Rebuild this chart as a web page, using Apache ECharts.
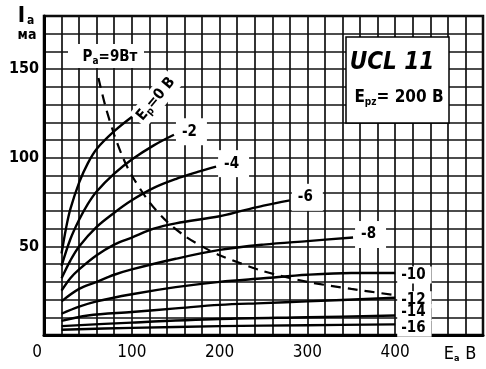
<!DOCTYPE html>
<html><head><meta charset="utf-8">
<script src="https://cdn.jsdelivr.net/npm/echarts@6/dist/echarts.min.js"></script>
<style>html,body{margin:0;padding:0;background:#fff}#c{width:486px;height:369px}</style>
</head><body><div id="c"></div><script>
const FONT = '"DejaVu Sans Condensed","DejaVu Sans",sans-serif';
// tick labels
const xTicks = [0, 100, 200, 300, 400];
const yTicks = [50, 100, 150];
// grid-voltage curves (Ea in V, Ia in mA)
const labels = ['Eр=0 В', '-2', '-4', '-6', '-8', '-10', '-12', '-14', '-16'];
const eaG0 = [20, 25, 30, 40, 50, 60, 80, 100];
const iaG0 = [46, 60, 71, 86, 97, 105, 115, 123];
const eaG2 = [20, 30, 40, 50, 60, 80, 100, 125, 148];
const iaG2 = [39, 54, 65, 74, 81, 91, 99, 107, 113];
const eaG4 = [20, 30, 40, 60, 80, 100, 125, 150, 175, 196];
const iaG4 = [32, 42, 50, 61, 69, 76, 83, 88, 92, 95];
const eaG6 = [20, 30, 40, 60, 80, 100, 125, 150, 200, 225, 250, 280];
const iaG6 = [25, 32, 37, 45, 51, 55, 60, 63, 67, 70, 73, 76];
const eaG8 = [20, 40, 60, 80, 100, 150, 200, 250, 300, 352];
const iaG8 = [19, 26, 30, 34, 37, 43, 48, 51, 53, 55];
const eaG10 = [20, 40, 60, 100, 150, 200, 250, 300, 350, 400];
const iaG10 = [12, 16, 19, 23, 27, 30, 32, 34, 35, 35];
const eaG12 = [20, 50, 100, 150, 200, 250, 300, 400];
const iaG12 = [8, 11, 13, 15, 17, 18, 19, 21];
const eaG14 = [20, 100, 200, 300, 400];
const iaG14 = [5, 7, 9, 10, 11];
const eaG16 = [20, 100, 200, 300, 400];
const iaG16 = [3, 4, 5, 5.5, 6];
// anode dissipation limit Pa = 9 W
const paEa = [62, 70, 80, 90, 100, 120, 140, 160, 180, 200, 250, 300, 350, 400];
const paIa = [145, 129, 113, 100, 90, 75, 64, 56, 50, 45, 36, 30, 26, 22.5];

const curves = [[eaG0, iaG0], [eaG2, iaG2], [eaG4, iaG4], [eaG6, iaG6], [eaG8, iaG8],
  [eaG10, iaG10], [eaG12, iaG12], [eaG14, iaG14], [eaG16, iaG16]];
const pairs = (xs, ys) => xs.map((v, i) => [v, ys[i]]);

const series = curves.map((c, k) => ({
  type: 'line', smooth: 0.35, symbol: 'none', silent: true, z: 3,
  data: pairs(c[0], c[1]),
  lineStyle: { color: '#000', width: 2.4 },
  endLabel: k === 0 ? { show: false } : {
    show: true, formatter: labels[k], color: '#000', fontFamily: FONT,
    fontWeight: 'bold', fontSize: 15, backgroundColor: '#fff',
    padding: k >= 5 ? [1, 6, 1, 4] : [6, 10, 6, 6], distance: 2,
    offset: k === 7 ? [0, -3] : (k === 8 ? [0, 4] : (k <= 4 ? [0, -3] : [0, 2]))
  }
}));
series.push({
  type: 'line', smooth: 0.3, symbol: 'none', silent: true, z: 2,
  data: pairs(paEa, paIa),
  lineStyle: { color: '#000', width: 2.2, type: [10, 7] }
});

const chart = echarts.init(document.getElementById('c'));
chart.setOption({
  animation: false,
  backgroundColor: '#fff',
  grid: { left: 44, top: 16, width: 439, height: 319, show: true, borderColor: '#000', borderWidth: 2.5, backgroundColor: 'transparent' },
  xAxis: {
    type: 'value', min: 0, max: 500, interval: 20,
    axisLine: { show: true, lineStyle: { color: '#000', width: 3 } },
    axisTick: { show: false },
    splitLine: { show: true, lineStyle: { color: '#111', width: 1.7 } },
    axisLabel: {
      margin: 9, color: '#000', fontFamily: FONT, fontSize: 17,
      formatter: v => xTicks.includes(v) && v < 500 ? (v === 0 ? '{z|0}' : String(v)) : '',
      rich: { z: { fontFamily: FONT, fontSize: 17, color: '#000', padding: [0, 14, 0, 0] } }
    }
  },
  yAxis: {
    type: 'value', min: 0, max: 180, interval: 10,
    axisLine: { show: true, lineStyle: { color: '#000', width: 3 } },
    axisTick: { show: false },
    splitLine: { show: true, lineStyle: { color: '#111', width: 1.7 } },
    axisLabel: {
      margin: 5, color: '#000', fontFamily: FONT, fontWeight: 'bold', fontSize: 16,
      formatter: v => yTicks.includes(v) ? String(v) : ''
    }
  },
  series: series,
  graphic: [
    // identification box
    { type: 'rect', shape: { x: 346, y: 37, width: 103, height: 86 }, style: { fill: '#fff', stroke: '#000', lineWidth: 1.5 }, z: 10 },
    { type: 'text', x: 392, y: 63, z: 11, style: { text: 'UCL 11', fill: '#000', font: 'italic bold 24px ' + FONT, textAlign: 'center', textVerticalAlign: 'middle' } },
    { type: 'text', x: 399, y: 98, z: 11, style: {
      text: '{m|E}{s|pz}{m|= 200 В}', textAlign: 'center', textVerticalAlign: 'middle',
      rich: { m: { fontFamily: FONT, fontWeight: 'bold', fontSize: 17, fill: '#000' },
              s: { fontFamily: FONT, fontWeight: 'bold', fontSize: 10, fill: '#000', padding: [9, 0, 0, 0] } } } },
    // Pa label
    { type: 'rect', shape: { x: 68, y: 44, width: 76, height: 24 }, style: { fill: '#fff' }, z: 10 },
    { type: 'text', x: 110, y: 57, z: 11, style: {
      text: '{m|P}{s|a}{m|=9Вт}', textAlign: 'center', textVerticalAlign: 'middle',
      rich: { m: { fontFamily: FONT, fontWeight: 'bold', fontSize: 15, fill: '#000' },
              s: { fontFamily: FONT, fontWeight: 'bold', fontSize: 10, fill: '#000', padding: [8, 0, 0, 0] } } } },
    // Eg = 0 label (rotated)
    { type: 'text', x: 156, y: 99, rotation: 50 * Math.PI / 180, z: 11, style: {
      text: '{m|E}{s|р}{m|=0 В}', textAlign: 'center', textVerticalAlign: 'middle',
      backgroundColor: '#fff', padding: [2, 3],
      rich: { m: { fontFamily: FONT, fontWeight: 'bold', fontSize: 15, fill: '#000' },
              s: { fontFamily: FONT, fontWeight: 'bold', fontSize: 10, fill: '#000', padding: [8, 0, 0, 0] } } } },
    // axis titles
    { type: 'text', x: 26, y: 16, z: 11, style: {
      text: '{b|I}{s|a}', textAlign: 'center', textVerticalAlign: 'middle',
      rich: { b: { fontFamily: FONT, fontWeight: 'bold', fontSize: 22, fill: '#000' },
              s: { fontFamily: FONT, fontWeight: 'bold', fontSize: 12, fill: '#000', padding: [10, 0, 0, 2] } } } },
    { type: 'text', x: 27, y: 35, z: 11, style: { text: 'ма', fill: '#000', font: 'bold 14px ' + FONT, textAlign: 'center', textVerticalAlign: 'middle' } },
    { type: 'text', x: 460, y: 354, z: 11, style: {
      text: '{m|E}{s|a}{g|  }{m|В}', textAlign: 'center', textVerticalAlign: 'middle',
      rich: { m: { fontFamily: FONT, fontSize: 18, fill: '#000' },
              g: { fontFamily: FONT, fontSize: 10, fill: '#000' },
              s: { fontFamily: FONT, fontWeight: 'bold', fontSize: 9, fill: '#000', padding: [10, 0, 0, 0] } } } }
  ]
});
</script></body></html>
